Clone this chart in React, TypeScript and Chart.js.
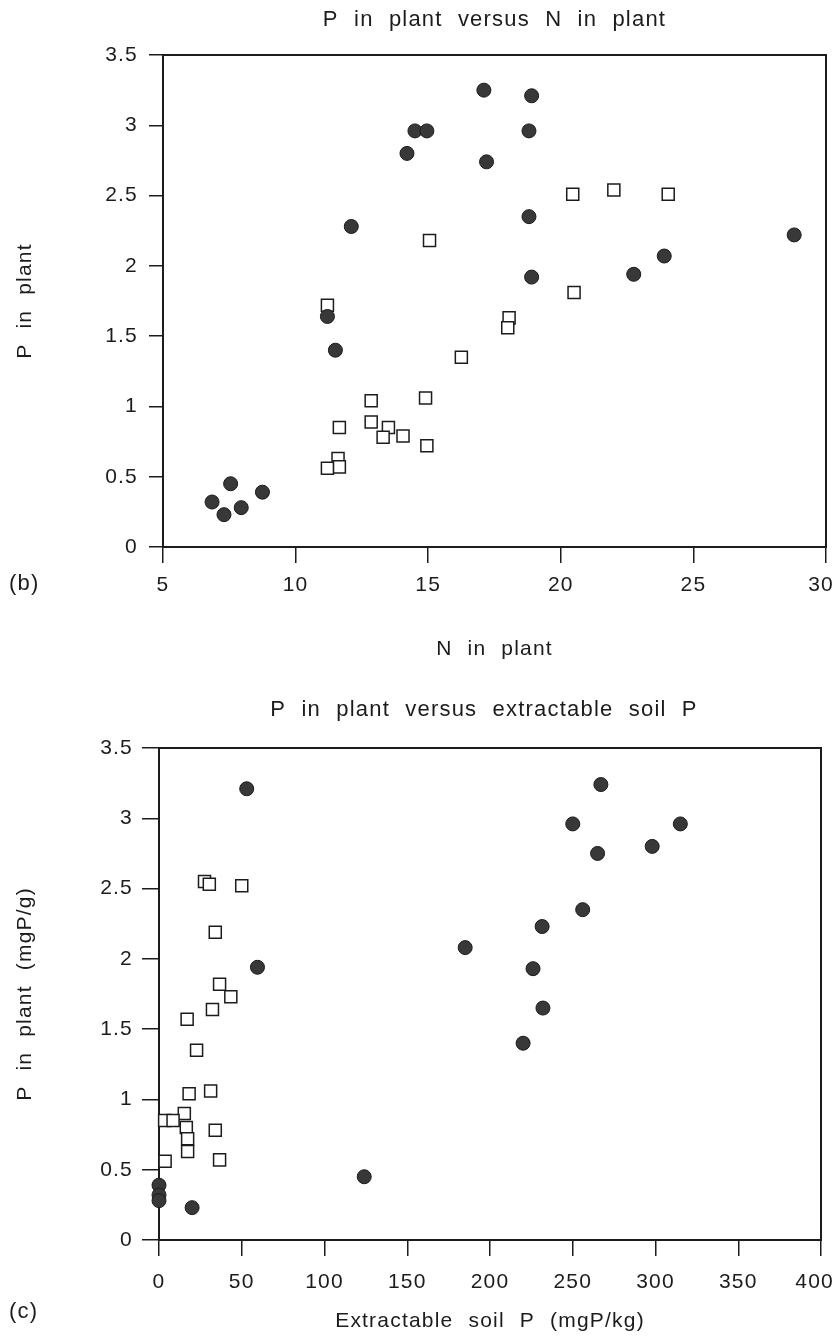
import React, { useEffect, useRef } from "react";
import { Chart, registerables } from "chart.js";

Chart.register(...registerables);

// ---------- data ----------
// Panel (b): P in plant versus N in plant
const nCircleN = [17.1, 18.9, 14.5, 14.95, 18.8, 14.2, 17.2, 18.8, 12.1, 28.8, 23.9, 22.75, 18.9, 11.2, 11.5, 7.55, 6.85, 7.3, 7.95, 8.75];
const nCircleP = [3.25, 3.21, 2.96, 2.96, 2.96, 2.8, 2.74, 2.35, 2.28, 2.22, 2.07, 1.94, 1.92, 1.64, 1.4, 0.45, 0.32, 0.23, 0.28, 0.39];
const nSquareN = [20.45, 22.0, 24.05, 15.05, 20.5, 11.2, 18.05, 18.0, 16.25, 12.85, 14.9, 12.85, 11.65, 13.5, 13.3, 14.05, 14.95, 11.6, 11.65, 11.2];
const nSquareP = [2.51, 2.54, 2.51, 2.18, 1.81, 1.72, 1.63, 1.56, 1.35, 1.04, 1.06, 0.89, 0.85, 0.85, 0.78, 0.79, 0.72, 0.63, 0.57, 0.56];

// Panel (c): P in plant versus extractable soil P
const soilCircleX = [53, 267, 250, 315, 265, 298, 256, 231.5, 185, 59.5, 226, 232, 220, 124, 20, 0, 0, 0];
const soilCircleP = [3.21, 3.24, 2.96, 2.96, 2.75, 2.8, 2.35, 2.23, 2.08, 1.94, 1.93, 1.65, 1.4, 0.45, 0.23, 0.39, 0.32, 0.28];
const soilSquareX = [27.5, 30.4, 50, 34, 36.6, 43.4, 32.3, 17, 22.7, 31.2, 18.2, 15.3, 3.4, 8.5, 16.5, 34, 17.3, 17.3, 3.7, 36.6];
const soilSquareP = [2.55, 2.53, 2.52, 2.19, 1.82, 1.73, 1.64, 1.57, 1.35, 1.06, 1.04, 0.9, 0.85, 0.85, 0.8, 0.78, 0.72, 0.63, 0.56, 0.57];

// ticks
const nTicks = [5, 10, 15, 20, 25, 30];
const soilTicks = [0, 50, 100, 150, 200, 250, 300, 350, 400];
const pTicks = [0, 0.5, 1, 1.5, 2, 2.5, 3, 3.5];

// text
const titleB = "P in plant versus N in plant";
const titleC = "P in plant versus extractable soil P";
const xTitleB = "N in plant";
const xTitleC = "Extractable soil P (mgP/kg)";
const yTitleB = "P in plant";
const yTitleC = "P in plant (mgP/g)";

const FONT = "'Liberation Sans', Arial, Helvetica, sans-serif";
const INK = "#1c1c1c";

// wide letter / word spacing of the original typesetting, applied to all text
const spacingPlugin = {
  id: "spacing",
  beforeDraw(chart: any) {
    const ctx = chart.ctx as any;
    ctx.letterSpacing = "1.2px";
    ctx.wordSpacing = "8px";
    // keep the last x tick label inside the canvas, as in the original
    const xs = chart.scales.x;
    const items = xs.getLabelItems(chart.chartArea);
    const last = items[items.length - 1];
    if (last && last.options && last.options.translation) {
      last.options.textAlign = "right";
      last.options.translation[0] = chart.width - 2;
    }
  },
};

const framePlugin = {
  id: "frame",
  beforeDatasetsDraw(chart: any) {
    const { ctx, chartArea: a } = chart;
    ctx.save();
    ctx.strokeStyle = INK;
    ctx.lineWidth = 2;
    ctx.strokeRect(a.left, a.top, a.right - a.left, a.bottom - a.top);
    ctx.restore();
  },
};

const textPlugin = {
  id: "panelText",
  afterDraw(chart: any, _args: any, opts: any) {
    const { ctx, chartArea: a } = chart;
    ctx.save();
    ctx.fillStyle = INK;
    ctx.textBaseline = "middle";
    ctx.textAlign = "center";
    ctx.font = `22px ${FONT}`;
    ctx.fillText(opts.title, (a.left + a.right) / 2 + (opts.titleDx || 0), opts.titleY);
    ctx.font = `22px ${FONT}`;
    ctx.textAlign = "left";
    ctx.fillText(opts.label, opts.labelX, opts.labelY);
    ctx.restore();
  },
};

type PanelParams = {
  cx: number[]; cy: number[]; sx: number[]; sy: number[];
  xTicks: number[]; xMin: number; xMax: number;
  title: string; titleY: number; titleDx: number; label: string; labelY: number;
  xTitle: string; yTitle: string;
  padTop: number; padRight: number; yWidth: number; xHeight: number;
  yTickLen: number; yTickPad: number; xTickLen: number; xTickPad: number; xTitlePad: number;
};

function makeConfig(p: PanelParams): any {
  const tickFont = { family: FONT, size: 21 };
  const axisTitleFont = { family: FONT, size: 21 };
  return {
    type: "scatter",
    data: {
      datasets: [
        {
          label: "circles",
          data: p.cx.map((x, i) => ({ x, y: p.cy[i] })),
          pointStyle: "circle",
          pointRadius: 7,
          pointHoverRadius: 7,
          backgroundColor: "#383838",
          borderColor: "#1a1a1a",
          borderWidth: 1,
          clip: false,
        },
        {
          label: "squares",
          data: p.sx.map((x, i) => ({ x, y: p.sy[i] })),
          pointStyle: "rect",
          pointRadius: 8.5,
          pointHoverRadius: 8.5,
          backgroundColor: "#ffffff",
          borderColor: INK,
          borderWidth: 1.5,
          clip: false,
        },
      ],
    },
    options: {
      animation: false,
      responsive: false,
      devicePixelRatio: 1,
      events: [],
      layout: { padding: { top: p.padTop, right: p.padRight, left: 0, bottom: 0 } },
      plugins: {
        legend: { display: false },
        tooltip: { enabled: false },
        title: { display: false },
        panelText: {
          title: p.title, titleY: p.titleY, titleDx: p.titleDx,
          label: p.label, labelX: 9, labelY: p.labelY,
        },
      },
      scales: {
        x: {
          type: "linear",
          min: p.xMin,
          max: p.xMax,
          afterBuildTicks: (s: any) => { s.ticks = p.xTicks.map((v) => ({ value: v })); },
          afterFit: (s: any) => { s.height = p.xHeight; s.paddingLeft = 0; s.paddingRight = 0; },
          border: { display: false },
          grid: { drawOnChartArea: false, drawTicks: true, tickLength: p.xTickLen, color: INK, lineWidth: 1.5 },
          ticks: { font: tickFont, color: INK, padding: p.xTickPad, maxRotation: 0, autoSkip: false, callback: (v: any) => String(v) },
          title: { display: true, text: p.xTitle, color: INK, font: axisTitleFont, padding: { top: 0, bottom: p.xTitlePad } },
        },
        y: {
          type: "linear",
          min: 0,
          max: 3.5,
          afterBuildTicks: (s: any) => { s.ticks = pTicks.map((v) => ({ value: v })); },
          afterFit: (s: any) => { s.width = p.yWidth; s.paddingTop = 0; s.paddingBottom = 0; },
          border: { display: false },
          grid: { drawOnChartArea: false, drawTicks: true, tickLength: p.yTickLen, color: INK, lineWidth: 1.5 },
          ticks: { font: tickFont, color: INK, padding: p.yTickPad, autoSkip: false, callback: (v: any) => String(v) },
          title: { display: true, text: p.yTitle, color: INK, font: axisTitleFont, padding: { top: 13, bottom: 0 } },
        },
      },
    },
    plugins: [spacingPlugin, framePlugin, textPlugin],
  };
}

function Panel({ params, top, height }: { params: PanelParams; top: number; height: number }) {
  const ref = useRef<HTMLCanvasElement>(null);
  useEffect(() => {
    const chart = new Chart(ref.current as HTMLCanvasElement, makeConfig(params));
    return () => chart.destroy();
  }, []);
  return (
    <canvas
      ref={ref}
      width={836}
      height={height}
      style={{ position: "absolute", left: 0, top, width: 836, height }}
    />
  );
}

const panelB: PanelParams = {
  cx: nCircleN, cy: nCircleP, sx: nSquareN, sy: nSquareP,
  xTicks: nTicks, xMin: 5, xMax: 30,
  title: titleB, titleY: 20, titleDx: 0, label: "(b)", labelY: 584,
  xTitle: xTitleB, yTitle: yTitleB,
  padTop: 55, padRight: 10, yWidth: 163, xHeight: 123,
  yTickLen: 14, yTickPad: 11, xTickLen: 16, xTickPad: 10, xTitlePad: 8,
};

const panelC: PanelParams = {
  cx: soilCircleX, cy: soilCircleP, sx: soilSquareX, sy: soilSquareP,
  xTicks: soilTicks, xMin: 0, xMax: 400,
  title: titleC, titleY: 40, titleDx: -6, label: "(c)", labelY: 642,
  xTitle: xTitleC, yTitle: yTitleC,
  padTop: 78, padRight: 15, yWidth: 159, xHeight: 101,
  yTickLen: 17, yTickPad: 9, xTickLen: 16, xTickPad: 14, xTitlePad: 7,
};

export default function App() {
  return (
    <div style={{ position: "absolute", left: 0, top: 0, width: 836, height: 1341, background: "#fff" }}>
      <Panel params={panelB} top={0} height={670} />
      <Panel params={panelC} top={670} height={671} />
    </div>
  );
}
